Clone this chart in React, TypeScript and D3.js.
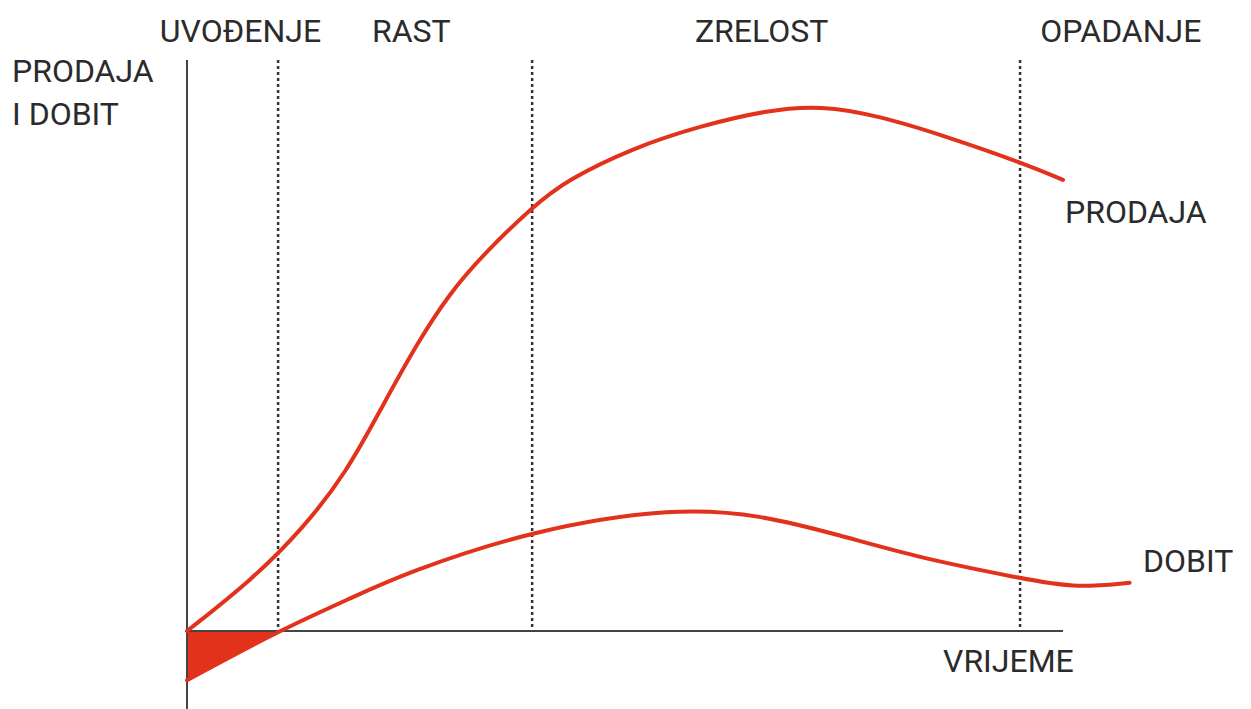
import React, { useEffect, useRef } from "react";
import * as d3 from "d3";

// product life cycle: time (0..100 = end of x axis) vs. relative amount
const salesX = [0, 7.5, 13.2, 18.2, 22.4, 26.3, 30.0, 33.8, 39.4, 43.4, 50.9, 58.6, 66.2, 72.3, 79.1, 86.8, 95.1, 100];
const salesY = [0, 9.9, 19.5, 30.2, 43.2, 55.0, 64.5, 71.8, 80.9, 86.1, 92.2, 96.4, 99.4, 100.3, 98.3, 94.3, 89.5, 86.1];

const profitX = [0, 10.4, 19.0, 25.0, 39.4, 55.8, 65.4, 74.5, 83.7, 95.1, 101.1, 107.6];
const profitY = [-9.4, 0, 6.5, 11.1, 19.3, 23.6, 22.2, 18.3, 13.9, 10.1, 8.2, 9.2];

const phaseNames = ["UVOĐENJE", "RAST", "ZRELOST", "OPADANJE"];
const phaseLabelAt = [6.1, 25.6, 65.6, 106.6];
const phaseBounds = [10.4, 39.4, 95.1];

const RED = "#e2321c";
const INK = "#2b2b2b";

export default function App() {
  const ref = useRef<SVGSVGElement>(null);

  useEffect(() => {
    const svg = d3.select(ref.current);
    svg.selectAll("*").remove();

    const x = d3.scaleLinear().domain([0, 100]).range([187, 1063]);
    const y = d3.scaleLinear().domain([0, 100]).range([631, 107]);

    const sales = salesX.map((v, i) => [v, salesY[i]] as [number, number]);
    const profit = profitX.map((v, i) => [v, profitY[i]] as [number, number]);

    const font = "Roboto, 'DejaVu Sans', sans-serif";

    // loss area under the axis
    const loss = profit.filter((d) => d[1] <= 0);
    svg.append("path")
      .attr("d", d3.area<[number, number]>()
        .x((d) => x(d[0]))
        .y0(y(0))
        .y1((d) => y(d[1]))(loss))
      .attr("fill", RED);

    // phase boundaries
    svg.selectAll(".phase")
      .data(phaseBounds)
      .join("line")
      .attr("x1", (d) => x(d))
      .attr("x2", (d) => x(d))
      .attr("y1", 60)
      .attr("y2", y(0))
      .attr("stroke", "#333")
      .attr("stroke-width", 2.5)
      .attr("stroke-dasharray", "3,3");

    // axes
    svg.append("line")
      .attr("x1", x(0)).attr("x2", x(0))
      .attr("y1", 60).attr("y2", 709)
      .attr("stroke", "#444").attr("stroke-width", 2);
    svg.append("line")
      .attr("x1", x(0)).attr("x2", x(100))
      .attr("y1", y(0)).attr("y2", y(0))
      .attr("stroke", "#444").attr("stroke-width", 2);

    const line = d3.line<[number, number]>()
      .x((d) => x(d[0]))
      .y((d) => y(d[1]))
      .curve(d3.curveBasis);

    [sales, profit].forEach((s) => {
      svg.append("path")
        .attr("d", line(s))
        .attr("fill", "none")
        .attr("stroke", RED)
        .attr("stroke-width", 4)
        .attr("stroke-linecap", "round");
    });

    const text = (t: string, tx: number, ty: number, anchor = "start") =>
      svg.append("text")
        .text(t)
        .attr("x", tx)
        .attr("y", ty)
        .attr("text-anchor", anchor)
        .attr("font-family", font)
        .attr("font-size", 32)
        .attr("fill", INK);

    phaseNames.forEach((n, i) => text(n, x(phaseLabelAt[i]), 42, "middle"));

    text("PRODAJA", 12, 82);
    text("I DOBIT", 12, 125);
    text("PRODAJA", 1065, 223);
    text("DOBIT", 1143, 572);
    text("VRIJEME", 943, 672);
  }, []);

  return (
    <svg
      ref={ref}
      width={1251}
      height={709}
      style={{ position: "absolute", left: 0, top: 0, background: "#fff" }}
    />
  );
}
